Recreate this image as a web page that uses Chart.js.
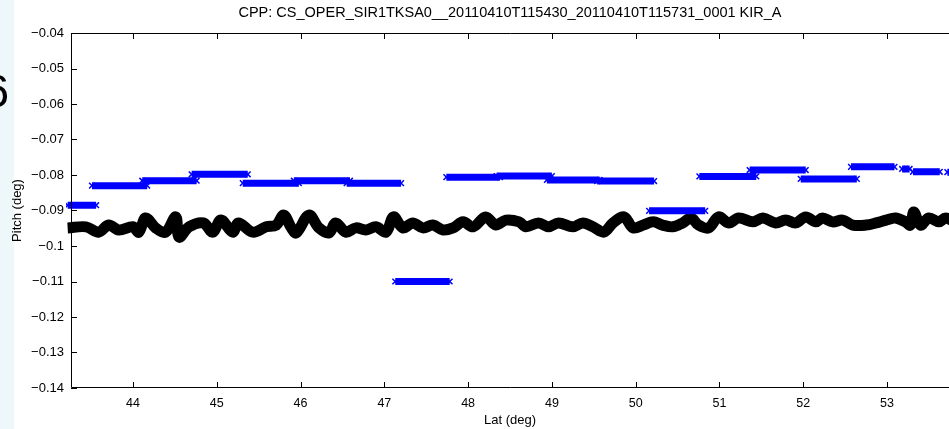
<!DOCTYPE html>
<html>
<head>
<meta charset="utf-8">
<script src="https://cdn.jsdelivr.net/npm/chart.js@4"></script>
<style>
  html, body { margin: 0; padding: 0; background: #fff; overflow: hidden; }
  #wrap { width: 949px; height: 429px; position: relative; }
</style>
</head>
<body>
<div id="wrap"><canvas id="c"></canvas></div>
<script>
const FONT = '"Liberation Sans", Arial, Helvetica, sans-serif';

const titleText = 'CPP: CS_OPER_SIR1TKSA0__20110410T115430_20110410T115731_0001 KIR_A';
const latTicks = [44, 45, 46, 47, 48, 49, 50, 51, 52, 53];
const pitchTicks = [-0.14, -0.13, -0.12, -0.11, -0.1, -0.09, -0.08, -0.07, -0.06, -0.05, -0.04];

// blue step segments (start lat, end lat, pitch)
const segStart = [43.22, 43.51, 44.11, 44.70, 45.31, 45.92, 46.55, 47.13, 47.74, 48.34, 48.94, 49.54, 50.16, 50.76, 51.36, 51.97, 52.57, 53.18, 53.31, 53.72];
const segEnd   = [43.56, 44.17, 44.76, 45.37, 45.98, 46.59, 47.20, 47.78, 48.38, 49.00, 49.57, 50.22, 50.83, 51.44, 52.03, 52.64, 53.09, 53.27, 53.63, 53.80];
const segPitch = [-0.0885, -0.0830, -0.0816, -0.0798, -0.0823, -0.0816, -0.0823, -0.1100, -0.0806, -0.0803, -0.0814, -0.0817, -0.0901, -0.0804, -0.0786, -0.0811, -0.0777, -0.0783, -0.0791, -0.0792];

// black track
const trackLat = [43.22, 43.44, 43.59, 43.71, 43.83, 44.00, 44.07, 44.15, 44.27, 44.39, 44.51, 44.55, 44.67, 44.84, 44.95,
  45.05, 45.19, 45.26, 45.43, 45.59, 45.71, 45.80, 45.89, 45.95, 46.10, 46.22, 46.34, 46.42, 46.54, 46.66, 46.78, 46.90,
  47.02, 47.11, 47.22, 47.34, 47.46, 47.58, 47.70, 47.82, 47.94, 48.06, 48.21, 48.33, 48.45, 48.61, 48.69, 48.84, 48.96,
  49.08, 49.25, 49.37, 49.49, 49.62, 49.73, 49.86, 49.97, 50.09, 50.21, 50.32, 50.44, 50.56, 50.66, 50.75, 50.87, 50.99,
  51.11, 51.23, 51.40, 51.52, 51.67, 51.79, 51.91, 52.03, 52.15, 52.23, 52.35, 52.47, 52.59, 52.75, 52.87, 52.99,
  53.10, 53.22, 53.28, 53.32, 53.40, 53.50, 53.62, 53.70, 53.80];
const trackPitch = [-0.0949, -0.0946, -0.0961, -0.0941, -0.0955, -0.0946, -0.0961, -0.0921, -0.0949, -0.0961, -0.0918, -0.0975, -0.0946, -0.0935, -0.0961,
  -0.0927, -0.0961, -0.0935, -0.0961, -0.0946, -0.0941, -0.0913, -0.0949, -0.0963, -0.0913, -0.0949, -0.0963, -0.0935, -0.0961, -0.0949, -0.0955, -0.0946,
  -0.0961, -0.0918, -0.0949, -0.0935, -0.0949, -0.0941, -0.0955, -0.0949, -0.0932, -0.0946, -0.0918, -0.0941, -0.0927, -0.0932, -0.0946, -0.0935, -0.0946,
  -0.0935, -0.0946, -0.0935, -0.0946, -0.0961, -0.0935, -0.0918, -0.0949, -0.0941, -0.0932, -0.0941, -0.0946, -0.0935, -0.0921, -0.0941, -0.0949, -0.0918,
  -0.0935, -0.0921, -0.0932, -0.0921, -0.0935, -0.0927, -0.0935, -0.0918, -0.0932, -0.0921, -0.0932, -0.0927, -0.0941, -0.0941, -0.0935, -0.0927,
  -0.0921, -0.0932, -0.0941, -0.0904, -0.0941, -0.0921, -0.0932, -0.0921, -0.0932];

const segPoints = [];
segStart.forEach((s, i) => {
  segPoints.push({x: s, y: segPitch[i]}, {x: segEnd[i], y: segPitch[i]}, {x: segEnd[i], y: null});
});
const trackPoints = trackLat.map((v, i) => ({x: v, y: trackPitch[i]}));

// matlab look: white bg, inward ticks, box lines, title over the axes
const matlabAxes = {
  id: 'matlabAxes',
  beforeDraw(chart) {
    const ctx = chart.ctx;
    ctx.save();
    ctx.fillStyle = '#fff';
    ctx.fillRect(0, 0, chart.width, chart.height);
    ctx.fillStyle = '#eef7f9';
    ctx.fillRect(0, 0, 14, chart.height);
    ctx.fillStyle = '#000';
    ctx.font = '46px ' + FONT;
    ctx.textAlign = 'right';
    ctx.textBaseline = 'middle';
    ctx.fillText('6', 9, 94);
    ctx.restore();
  },
  afterDraw(chart) {
    const ctx = chart.ctx;
    const a = chart.chartArea;
    const xs = chart.scales.x, ys = chart.scales.y;
    ctx.save();
    ctx.strokeStyle = '#000';
    ctx.lineWidth = 1;
    ctx.beginPath();
    ctx.moveTo(a.right, a.top + 0.5);
    ctx.lineTo(a.left + 0.5, a.top + 0.5);
    ctx.lineTo(a.left + 0.5, a.bottom - 0.5);
    ctx.lineTo(a.right, a.bottom - 0.5);
    xs.ticks.forEach(t => {
      const px = Math.round(xs.getPixelForValue(t.value)) + 0.5;
      ctx.moveTo(px, a.bottom); ctx.lineTo(px, a.bottom - 6);
      ctx.moveTo(px, a.top); ctx.lineTo(px, a.top + 6);
    });
    ys.ticks.forEach(t => {
      const py = Math.round(ys.getPixelForValue(t.value)) + 0.5;
      ctx.moveTo(a.left, py); ctx.lineTo(a.left + 6, py);
    });
    ctx.stroke();
    ctx.fillStyle = '#000';
    ctx.font = '14.5px ' + FONT;
    ctx.textAlign = 'center';
    ctx.textBaseline = 'middle';
    ctx.fillText(titleText, (a.left + a.right) / 2, 13);
    ctx.restore();
  }
};

new Chart(document.getElementById('c'), {
  type: 'line',
  data: {
    datasets: [
      {
        data: trackPoints,
        borderColor: '#000',
        borderWidth: 11,
        tension: 0.35,
        pointRadius: 0,
        clip: {left: 5, top: 0, right: 0, bottom: 0},
        order: 2
      },
      {
        data: segPoints,
        borderColor: '#0000ff',
        backgroundColor: '#0000ff',
        borderWidth: 7,
        borderCapStyle: 'butt',
        spanGaps: false,
        pointStyle: 'crossRot',
        pointRadius: 4,
        pointBorderWidth: 1.5,
        pointBorderColor: '#0000ff',
        clip: {left: 5, top: 0, right: 0, bottom: 0},
        order: 1
      }
    ]
  },
  options: {
    responsive: true,
    maintainAspectRatio: false,
    animation: false,
    layout: { autoPadding: false, padding: { top: 33, right: 0, left: 0, bottom: 0 } },
    plugins: {
      legend: { display: false },
      tooltip: { enabled: false },
      title: { display: false }
    },
    scales: {
      x: {
        type: 'linear',
        min: 43.26,
        max: 53.74,
        afterBuildTicks: s => { s.ticks = latTicks.map(v => ({value: v})); },
        afterFit: s => { s.height = 41; },
        grid: { display: false, drawTicks: false },
        border: { display: false },
        ticks: {
          color: '#000',
          font: { size: 12.5, family: FONT },
          padding: 8,
          maxRotation: 0,
          callback: v => String(v)
        },
        title: {
          display: true,
          text: 'Lat (deg)',
          color: '#000',
          font: { size: 13, family: FONT },
          padding: { top: 0, bottom: 1 }
        }
      },
      y: {
        min: -0.14,
        max: -0.04,
        afterBuildTicks: s => { s.ticks = pitchTicks.map(v => ({value: v})); },
        afterFit: s => { s.width = 71; },
        grid: { display: false, drawTicks: false },
        border: { display: false },
        ticks: {
          color: '#000',
          font: { size: 13, family: FONT },
          padding: 7,
          callback: v => (Math.round(v * 100) / 100).toString().replace('-', '\u2212')
        },
        title: {
          display: true,
          text: 'Pitch (deg)',
          color: '#000',
          font: { size: 13, family: FONT },
          padding: { top: 10, bottom: 0 }
        }
      }
    }
  },
  plugins: [matlabAxes]
});
</script>
</body>
</html>
